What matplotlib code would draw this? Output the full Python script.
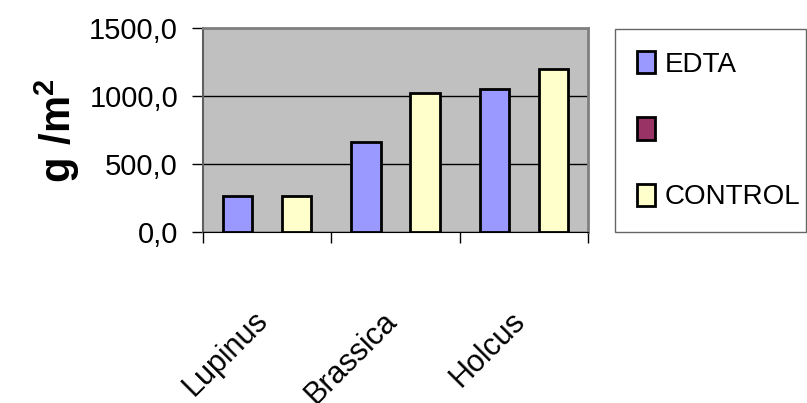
import numpy as np
import matplotlib
matplotlib.use("Agg")
import matplotlib.pyplot as plt
from matplotlib.patches import Patch
from matplotlib.transforms import ScaledTranslation

plt.rcParams['font.family'] = ['Liberation Sans', 'DejaVu Sans']
plt.rcParams['mathtext.fontset'] = 'custom'
plt.rcParams['mathtext.rm'] = 'Liberation Sans'
plt.rcParams['mathtext.bf'] = 'Liberation Sans:bold'

# data
species = ["Lupinus", "Brassica", "Holcus"]
edta = [265, 660, 1050]
control = [265, 1025, 1198]
series_names = ["EDTA", " ", "CONTROL"]
series_colors = ["#9999FF", "#993366", "#FFFFCC"]
yticks = [0, 500, 1000, 1500]

fig = plt.figure(figsize=(8.07, 4.03), dpi=100)
ax = fig.add_axes([203/807, 1 - 232/403, 385/807, 204/403])
ax.set_facecolor("#C0C0C0")

x = np.arange(len(species))
w = 0.23
ax.bar(x - 0.23, edta, w, color=series_colors[0], edgecolor="black", linewidth=2, zorder=3)
ax.bar(x + 0.23, control, w, color=series_colors[2], edgecolor="black", linewidth=2, zorder=3)

ax.set_xlim(-0.5, len(species) - 0.5)
ax.set_ylim(0, 1500)
ax.set_yticks(yticks)
ax.set_yticklabels([f"{v:.1f}".replace(".", ",") for v in yticks], fontsize=21)
ax.yaxis.grid(True, color="black", linewidth=1, zorder=1)
ax.tick_params(axis="y", length=8, width=1, pad=10)

ax.set_xticks(x)
ax.set_xticklabels(species, rotation=45, ha="right", rotation_mode="anchor", fontsize=22)
ax.tick_params(axis="x", which="major", length=0, pad=53)
ax.set_xticks(np.arange(len(species) + 1) - 0.5, minor=True)
ax.tick_params(axis="x", which="minor", length=8, width=1)
shift = ScaledTranslation(-14/100, 0, fig.dpi_scale_trans)
for lbl in ax.get_xticklabels():
    lbl.set_transform(lbl.get_transform() + shift)

for s in ["top", "right"]:
    ax.spines[s].set_color("#808080")
    ax.spines[s].set_linewidth(2)
ax.spines["left"].set_color("#606060")
ax.spines["left"].set_linewidth(1.5)
ax.spines["bottom"].set_color("black")

fig.text(57/807, 1 - 131/403, r"$\mathbf{g\ /m^2}$", rotation=90, fontsize=30,
         ha="center", va="center")

handles = [Patch(facecolor=c, edgecolor="black", linewidth=2) for c in series_colors]
leg = fig.legend(handles, series_names, loc="upper left",
                 bbox_to_anchor=(615/807, 1 - 29/403 - 0.01, 191/807, 0.01), mode="expand",
                 fontsize=20, frameon=True, fancybox=False, edgecolor="#404040",
                 handlelength=0.65, handleheight=0.85, handletextpad=0.35,
                 labelspacing=1.42, borderpad=0.8, borderaxespad=0)
leg.get_frame().set_linewidth(1)

fig.savefig("out.png", dpi=100)
